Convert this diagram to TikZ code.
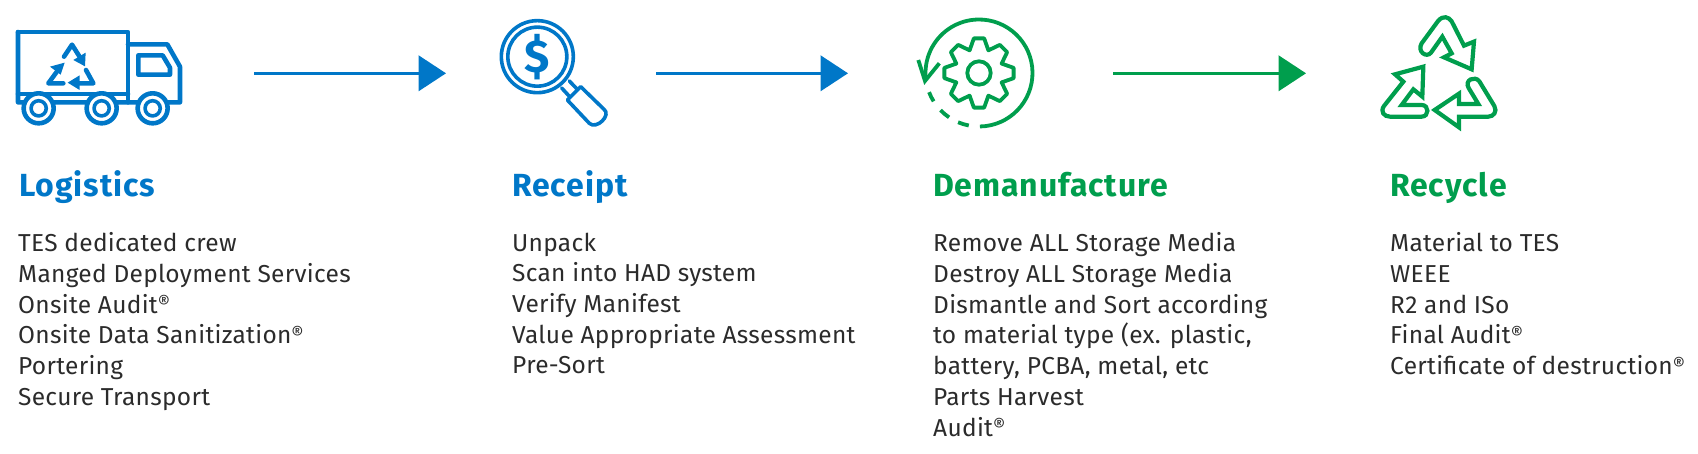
\documentclass[tikz,border=0pt]{standalone}
\usepackage{fontspec}
\setmainfont{Fira Sans}
\usetikzlibrary{arrows.meta, positioning}
\definecolor{tesblue}{HTML}{0077C8}
\definecolor{tesgreen}{HTML}{009E4D}
\definecolor{tesgrey}{HTML}{2B2B2B}
\newcommand{\regmark}{\raisebox{3.5pt}{\fontsize{19}{19}\selectfont\textregistered}}
\tikzset{
  zoomed/.style = {x=0.3333pt, y=-0.3333pt},
  head/.style = {inner sep=0pt, anchor=base west,
    font=\fontsize{32}{36}\selectfont\bfseries\addfontfeature{LetterSpace=2.9}},
  items/.style = {inner sep=0pt, align=left, text=tesgrey, execute at begin node=\strut,
    font=\fontsize{24.5}{30.7}\selectfont\addfontfeature{LetterSpace=1.2}},
  flow/.style = {line width=2.5pt, -{Triangle[length=27.5pt, width=35.5pt]}},
  icon/.style = {line width=3.6pt, line join=round, line cap=round}
}
\begin{document}
\begin{tikzpicture}[x=1pt, y=1pt]
  \useasboundingbox (0,0) rectangle (1698,-454);
  % truck
  \begin{scope}[shift={(0,0)}, zoomed, icon, tesblue, line width=4.6pt]
    \draw (54,96) -- (384,96) -- (384,307);
    \draw (54,96) -- (54,307) -- (540,307) -- (540,200) -- (502,133) -- (384,133);
    \draw (54,282) -- (384,282);
    \draw (415,166) -- (488,166) -- (510,203) -- (510,224) -- (415,224) -- cycle;
    \foreach \wx in {116, 305, 458} {
      \draw[fill=white] (\wx,325) circle[radius=15pt];
      \draw[line width=3.6pt] (\wx,325) circle[radius=7.6pt];
    }
    \draw (192,170) -- (216,134) -- (240,172);
    \draw (258,210) -- (280,250) -- (238,250);
    \draw (178,205) -- (145,250) -- (190,250);
    \fill (257,158) -- (255,199) -- (220,180) -- cycle;
    \fill (239,226) -- (203,248) -- (239,270) -- cycle;
    \fill (194,188) -- (150,200) -- (182,224) -- cycle;
  \end{scope}
  % magnifier
  \begin{scope}[shift={(480,0)}, zoomed, icon, tesblue, line width=3.6pt]
    \draw (172,170) circle[radius=36pt];
    \draw (172,170) circle[radius=29.5pt];
    \draw (268,243) -- (290,266);
    \draw (245,264) -- (269,290);
    \draw (302,260) -- (262,300) -- (328,370) .. controls (350,390) and (395,345) .. (372,328) -- cycle;
    \node[text=tesblue, inner sep=0pt, font=\fontsize{46}{48}\selectfont\bfseries] (dollar) at (172,170) {\$};
  \end{scope}
  % gear
  \begin{scope}[shift={(979,-73)}, icon, tesgreen, line width=3.8pt]
    \draw (90-8.5:35) \foreach \ga in {0,45,...,315} {
        -- (90+\ga+8.5-17:35) -- (90+\ga+8.5:35) -- (90+\ga+22.5:24.5)
      } -- cycle;
    \draw (0,0) circle[radius=11.7pt];
    \draw[line cap=butt] (-89:53.5) arc[start angle=-89, end angle=186, radius=53.5];
    \draw[line cap=butt] (201:53.5) arc[start angle=201, end angle=212, radius=53.5];
    \draw[line cap=butt] (224:53.5) arc[start angle=224, end angle=236, radius=53.5];
    \draw[line cap=butt] (247:53.5) arc[start angle=247, end angle=259, radius=53.5];
    \draw[line cap=butt, line join=miter] (-60.7,13) -- (-54,-8) -- (-39.7,9.7);
  \end{scope}
  % recycle
  \begin{scope}[shift={(1360,0)}, zoomed, icon, tesgreen, line width=4.2pt, line join=miter]
    \draw (185,130) -- (235,62) .. controls (250,46) and (265,50) .. (275,64) -- (312,137)
      -- (342,125) -- (335,208) -- (252,172) -- (275,160) -- (247,110) -- (213,158)
      .. controls (200,175) and (170,155) .. (185,130) -- cycle;
    \draw (326,264) .. controls (312,240) and (345,226) .. (358,244) -- (403,318)
      .. controls (413,335) and (400,350) .. (385,350) -- (297,350) -- (297,382)
      -- (224,330) -- (297,281) -- (297,312) -- (355,312) -- cycle;
    \draw (190,200) -- (105,223) -- (130,245) -- (72,318) .. controls (60,335) and (72,350) .. (90,350)
      -- (185,350) .. controls (208,350) and (208,315) .. (185,315) -- (125,315) -- (160,268)
      -- (187,290) -- cycle;
  \end{scope}
  % arrows
  \coordinate (truckout) at (254,-73.3);
  \coordinate (lensin) at (446,-73.3);
  \coordinate (lensout) at (656,-73.3);
  \coordinate (gearin) at (848,-73.3);
  \coordinate (gearout) at (1113,-73.3);
  \coordinate (cyclein) at (1306,-73.3);
  \draw[flow, tesblue] (truckout) -- (lensin);
  \draw[flow, tesblue] (lensout) -- (gearin);
  \draw[flow, tesgreen] (gearout) -- (cyclein);
  % columns
  \node[head, text=tesblue] (loghead) at (19,-196.5) {Logistics};
  \node[items, below right=36pt and -1pt of loghead.base west] (loglist) {TES dedicated crew\\
    Manged Deployment Services\\ Onsite Audit\regmark\\ Onsite Data Sanitization\regmark\\
    Portering\\ Secure Transport};
  \node[head, text=tesblue] (rechead) at (512,-196.5) {Receipt};
  \node[items, below right=36pt and 0pt of rechead.base west] (reclist) {Unpack\\
    Scan into HAD system\\ Verify Manifest\\ Value Appropriate Assessment\\ Pre-Sort};
  \node[head, text=tesgreen] (demhead) at (933,-196.5) {Demanufacture};
  \node[items, below right=36pt and 0pt of demhead.base west] (demlist) {Remove ALL Storage Media\\
    Destroy ALL Storage Media\\ Dismantle and Sort according\\ to material type (ex. plastic,\\
    battery, PCBA, metal, etc\\ Parts Harvest\\ Audit\regmark};
  \node[head, text=tesgreen] (cychead) at (1390,-196.5) {Recycle};
  \node[items, below right=36pt and 0pt of cychead.base west] (cyclist) {Material to TES\\
    WEEE\\ R2 and ISo\\ Final Audit\regmark\\ Certificate of destruction\regmark};
\end{tikzpicture}
\end{document}
